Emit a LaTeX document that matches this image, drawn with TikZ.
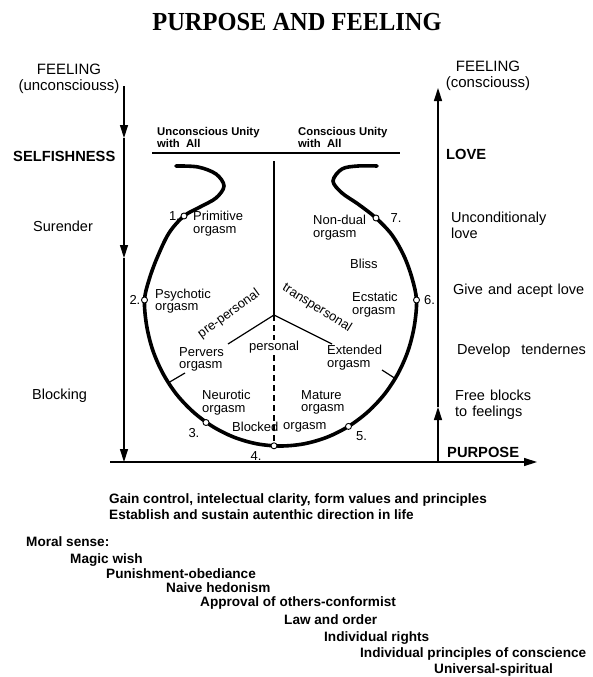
\documentclass[tikz,border=0pt]{standalone}
\usepackage{fontspec}
\setmainfont{Liberation Sans}
\newfontfamily\titlefont{Liberation Serif}
\usetikzlibrary{arrows.meta, positioning}

\begin{document}
\begin{tikzpicture}[x=1pt, y=-1pt,
  axis/.style={line width=1.4pt},
  tip/.style={-{Triangle[length=13pt,width=8pt]}},
  sidelbl/.style={font=\fontsize{14.5}{15.5}\selectfont, align=left, anchor=west, inner sep=0pt},
  headlbl/.style={font=\bfseries\fontsize{14.7}{16}\selectfont, anchor=west, inner sep=0pt},
  unitylbl/.style={font=\bfseries\fontsize{11.3}{12}\selectfont, align=left, anchor=west, inner sep=0pt},
  inlbl/.style={font=\fontsize{13}{12.5}\selectfont, align=left, anchor=west, inner sep=0pt},
  numlbl/.style={font=\fontsize{13}{14}\selectfont, inner sep=0pt},
  stage/.style={circle, draw, fill=white, line width=0.9pt, inner sep=0pt, minimum size=6pt},
  moral/.style={font=\bfseries\fontsize{13.6}{15}\selectfont, anchor=west, inner sep=0pt}
]
  \fill[white] (0,0) rectangle (592,677);
  \useasboundingbox (0,0) rectangle (592,677);

  \node[font=\titlefont\bfseries\fontsize{26}{28}\selectfont, xscale=0.94] (title) at (297,22) {PURPOSE AND FEELING};

  % axes
  \node[sidelbl, anchor=center, align=center, font=\fontsize{15}{16}\selectfont] (feelu) at (69,79) {FEELING\\(unconsciouss)};
  \node[sidelbl, anchor=center, align=center, font=\fontsize{15}{16}\selectfont] (feelc) at (488,76) {FEELING\\(consciouss)};
  \coordinate (ltop) at (124,86);
  \coordinate (lmid1) at (124,138);
  \coordinate (lmid2) at (124,258);
  \coordinate (lbot) at (124,462);
  \draw[axis, tip] (ltop) -- (lmid1);
  \draw[axis, tip] (lmid1) -- (lmid2);
  \draw[axis, tip] (lmid2) -- (lbot);
  \coordinate (hstart) at (110,462);
  \coordinate (hend) at (537,462);
  \draw[axis, tip] (hstart) -- (hend);
  \coordinate (rbot) at (438,462);
  \coordinate (rmid) at (438,407);
  \coordinate (rtop) at (438,88);
  \draw[axis, tip] (rbot) -- (rmid);
  \draw[axis, tip] (rmid) -- (rtop);

  \node[headlbl] (selfish) at (13,156) {SELFISHNESS};
  \node[headlbl] (love) at (446,154) {LOVE};
  \node[headlbl] (purpose) at (447,452) {PURPOSE};
  \node[sidelbl] (surender) at (33,226) {Surender};
  \node[sidelbl] (blocking) at (32,396) {Blocking};
  \node[sidelbl] (uncond) at (451,225.5) {Unconditionaly\\love};
  \node[sidelbl] (give) at (453,291) {Give\hspace{5pt}and\hspace{5pt}acept\hspace{5pt}love};
  \node[sidelbl] (develop) at (457,351) {Develop\hspace{11pt}tendernes};
  \node[sidelbl] (free) at (455,404.5) {Free\hspace{5pt}blocks\\to\hspace{5pt}feelings};

  % unity headings
  \node[unitylbl] (uunity) at (157,137.5) {Unconscious Unity\\with\ \ All};
  \node[unitylbl] (cunity) at (298,137.5) {Conscious Unity\\with\ \ All};
  \coordinate (ul) at (152,153);
  \coordinate (ur) at (400,153);
  \draw[line width=1.3pt] (ul) -- (ur);

  % circle
  \draw[line width=3.6pt, line cap=round] plot[smooth, tension=0.55] coordinates {(176,166) (198,167) (216,174) (224,186) (216,198) (200,207) (184,216) (169,233) (157,258) (149,280) (144.5,300) (146.6,325.4) (152.7,350) (162.7,373) (176.3,394) (193.1,411.8) (212.5,426.4) (234,437.2) (256.9,443.8) (280.5,446) (304.1,443.8) (327,437.2) (348.5,426.4) (367.9,411.8) (384.7,393.9) (398.3,373) (408.3,350) (414.4,325.4) (416.5,300) (412,278) (404,256) (392,235) (376,218) (358,204) (342,193) (333,181) (342,169) (358,166) (377,166)};
  \draw[line width=1.2pt] (168,383) -- (185,373);
  \draw[line width=1.2pt] (396,379) -- (382,370);

  \node[stage] (p1) at (184,216) {};
  \node[stage] (p2) at (144.5,300) {};
  \node[stage] (p3) at (206,422.5) {};
  \node[stage] (p4) at (274,445.8) {};
  \node[stage] (p5) at (348.5,426.4) {};
  \node[stage] (p6) at (416.5,300) {};
  \node[stage] (p7) at (376,218) {};
  \node[numlbl, left=0.5pt of p1] (n1) {1.};
  \node[numlbl, left=0.5pt of p2] (n2) {2.};
  \node[numlbl, below left=3pt and 4pt of p3] (n3) {3.};
  \node[numlbl, below left=3.5pt and 10pt of p4] (n4) {4.};
  \node[numlbl, below right=3pt and 5pt of p5] (n5) {5.};
  \node[numlbl, right=4pt of p6] (n6) {6.};
  \node[numlbl, right=11pt of p7] (n7) {7.};

  % sectors
  \coordinate (ctop) at (274,161);
  \coordinate (cj) at (274,315);
  \coordinate (cl) at (228,344);
  \coordinate (cr) at (332,344);
  \draw[line width=1.2pt] (ctop) -- (cj);
  \draw[line width=1.2pt] (cl) -- (cj) -- (cr);
  \draw[line width=1.2pt, dash pattern=on 6pt off 4pt] (cj) -- (p4);
  \node[inlbl, anchor=center, rotate=36] (prep) at (229,314) {pre-personal};
  \node[inlbl, anchor=center, rotate=-32] (transp) at (317,308) {transpersonal};
  \node[inlbl, anchor=center, fill=white, inner sep=0.5pt] (pers) at (274,347) {personal};

  \node[inlbl] (primitive) at (193,223.5) {Primitive\\orgasm};
  \node[inlbl] (nondual) at (313,227.5) {Non-dual\\orgasm};
  \node[inlbl] (bliss) at (350,264) {Bliss};
  \node[inlbl] (ecstatic) at (352,304.5) {Ecstatic\\orgasm};
  \node[inlbl] (psychotic) at (155,301) {Psychotic\\orgasm};
  \node[inlbl] (pervers) at (179,359.5) {Pervers\\orgasm};
  \node[inlbl] (extended) at (327,357.5) {Extended\\orgasm};
  \node[inlbl] (neurotic) at (202,402.5) {Neurotic\\orgasm};
  \node[inlbl] (mature) at (301,402.5) {Mature\\orgasm};
  \node[inlbl] (blocked) at (232,427) {Blocked};
  \node[inlbl] (borgasm) at (283,427) {orgasm};

  % moral sense
  \node[moral] (gain) at (109,500) {Gain control, intelectual clarity, form values and principles};
  \node[moral] (establish) at (109,515) {Establish and sustain autenthic direction in life};
  \node[moral] (msense) at (26,542) {Moral sense:};
  \node[moral] (m1) at (70,560) {Magic wish};
  \node[moral] (m2) at (106,574) {Punishment-obediance};
  \node[moral] (m3) at (166,588) {Naive hedonism};
  \node[moral] (m4) at (200,603) {Approval of others-conformist};
  \node[moral] (m5) at (284,620) {Law and order};
  \node[moral] (m6) at (324,638) {Individual rights};
  \node[moral] (m7) at (360,654) {Individual principles of conscience};
  \node[moral] (m8) at (434,670) {Universal-spiritual};
\end{tikzpicture}
\end{document}
